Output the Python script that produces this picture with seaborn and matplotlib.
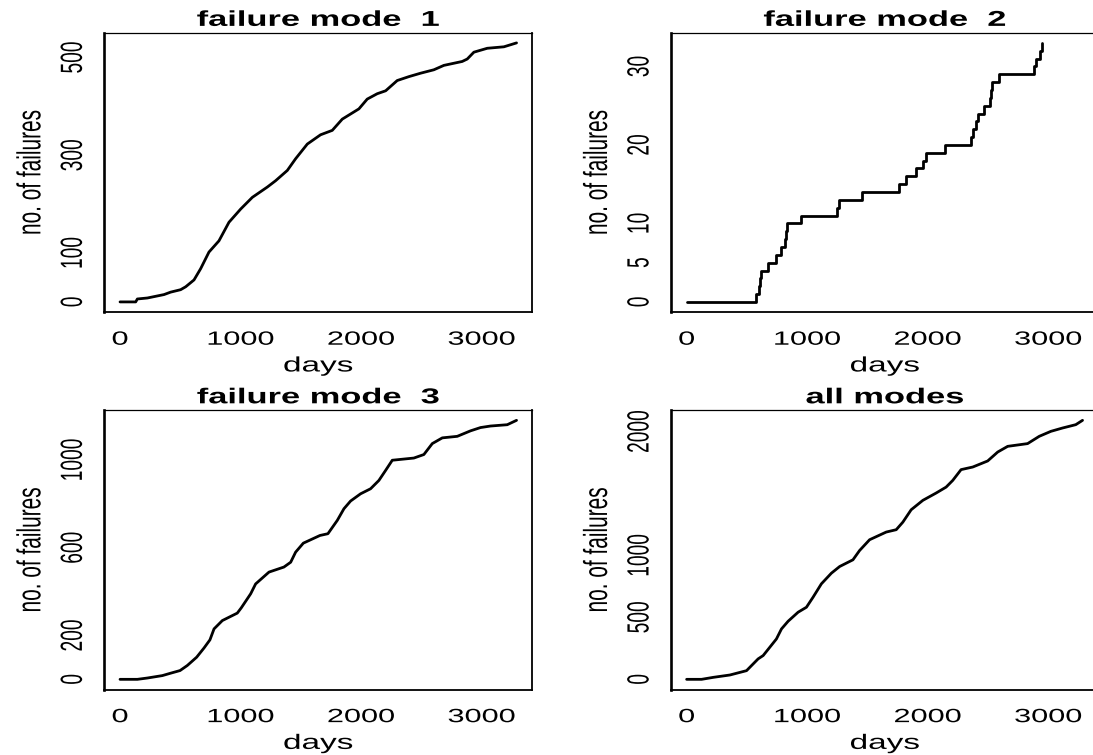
import matplotlib
matplotlib.use("Agg")
import matplotlib.pyplot as plt
import pandas as pd
import seaborn as sns
from matplotlib.patheffects import AbstractPathEffect
from matplotlib.transforms import Affine2D

# ---- cumulative failures by mode ----
mode1_days = [0, 130, 144, 227, 365, 420, 503, 545, 614, 669, 738, 821, 904, 1001,
              1098, 1222, 1291, 1388, 1457, 1554, 1664, 1761, 1844, 1982, 2051, 2134,
              2204, 2300, 2397, 2494, 2604, 2687, 2839, 2881, 2936, 3047, 3185, 3290]
mode1_count = [0, 0, 6, 8, 15, 20, 25, 31, 45, 68, 102, 125, 163, 190,
               214, 235, 248, 269, 293, 323, 342, 351, 374, 395, 415, 426,
               432, 453, 461, 468, 475, 484, 492, 497, 511, 519, 522, 530]

mode2_days = [0, 574, 602, 610, 621, 676, 745, 781, 820, 828, 834, 952, 1248, 1265,
              1455, 1761, 1816, 1905, 1965, 1982, 2147, 2360, 2380, 2400, 2415, 2470,
              2517, 2525, 2534, 2589, 2884, 2898, 2934, 2945]
mode2_count = list(range(0, 34))

mode3_days = [0, 144, 227, 351, 420, 498, 558, 636, 697, 746, 780, 849, 973, 1006,
              1084, 1125, 1236, 1360, 1416, 1457, 1521, 1659, 1725, 1803, 1858, 1913,
              1996, 2079, 2148, 2204, 2259, 2438, 2521, 2591, 2674, 2798, 2908, 2991,
              3074, 3213, 3290]
mode3_count = [0, 0, 6, 17, 28, 40, 63, 101, 143, 180, 230, 268, 302, 326,
               390, 435, 489, 512, 534, 580, 621, 656, 664, 725, 778, 813,
               846, 869, 907, 953, 999, 1009, 1025, 1075, 1101, 1108, 1133, 1148,
               1155, 1161, 1181]

all_days = [0, 124, 221, 359, 497, 593, 635, 690, 745, 787, 842, 925, 994, 1049,
            1118, 1201, 1270, 1380, 1435, 1518, 1656, 1739, 1794, 1863, 1960, 2070,
            2153, 2208, 2277, 2374, 2498, 2581, 2664, 2829, 2926, 3022, 3119, 3229, 3285]
all_count = [0, 0, 16, 35, 70, 165, 192, 259, 326, 407, 469, 542, 582, 663,
             771, 857, 911, 965, 1040, 1127, 1189, 1208, 1269, 1369, 1445, 1504,
             1552, 1606, 1693, 1714, 1763, 1835, 1881, 1903, 1962, 2002, 2029, 2056, 2091]

titles = ["failure mode  1", "failure mode  2", "failure mode  3", "all modes"]

y_ticks = [[0, 100, 200, 300, 400, 500],
           [0, 5, 10, 15, 20, 25, 30],
           [0, 200, 400, 600, 800, 1000, 1200],
           [0, 500, 1000, 1500, 2000]]
y_tick_labels = [["0", "100", "", "300", "", "500"],
                 ["0", "5", "10", "", "20", "", "30"],
                 ["0", "200", "", "600", "", "1000", ""],
                 ["0", "500", "1000", "", "2000"]]
x_ticks = [0, 500, 1000, 1500, 2000, 2500, 3000]
x_tick_labels = ["0", "", "1000", "", "2000", "", "3000"]


class WideText(AbstractPathEffect):
    """Widen glyphs horizontally around their own centre."""

    def __init__(self, factor):
        super().__init__()
        self.factor = factor

    def draw_path(self, renderer, gc, tpath, affine, rgbFace=None):
        ext = tpath.get_extents(affine)
        cx = 0.5 * (ext.x0 + ext.x1)
        widen = Affine2D().translate(-cx, 0).scale(self.factor, 1).translate(cx, 0)
        renderer.draw_path(gc, tpath, affine + widen, rgbFace)


sns.set_theme(style="white")
plt.rcParams["font.family"] = ["Liberation Sans", "DejaVu Sans"]
plt.rcParams["axes.edgecolor"] = "black"
plt.rcParams["text.color"] = "black"
plt.rcParams["xtick.color"] = "black"
plt.rcParams["ytick.color"] = "black"
plt.rcParams["axes.labelcolor"] = "black"

wide = [WideText(1.6)]

series = [
    (mode1_days, mode1_count, "default"),
    (mode2_days, mode2_count, "steps-post"),
    (mode3_days, mode3_count, "default"),
    (all_days, all_count, "default"),
]

fig = plt.figure(figsize=(10.93, 7.55), dpi=100)
lefts = [0.0953, 0.6137, 0.0953, 0.6137]
bottoms = [0.5864, 0.5864, 0.0865, 0.0865]
width, height = 0.3918, 0.3705

day_max = max(max(d) for d, _, _ in series)

for i, (days, counts, style) in enumerate(series):
    ax = fig.add_axes([lefts[i], bottoms[i], width, height])
    df = pd.DataFrame({"days": days, "failures": counts})
    sns.lineplot(data=df, x="days", y="failures", ax=ax, color="black",
                 linewidth=2.0, estimator=None, sort=False, drawstyle=style)

    cmax = max(counts)
    ax.set_xlim(-0.04 * day_max, 1.04 * day_max)
    ax.set_ylim(-0.04 * cmax, 1.04 * cmax)

    ax.set_xticks(x_ticks)
    ax.set_xticklabels(x_tick_labels, fontsize=13.8)
    ax.set_yticks(y_ticks[i])
    ax.set_yticklabels(y_tick_labels[i], fontsize=13.8, rotation=90, va="center")

    ax.tick_params(axis="x", direction="out", length=9, width=1.6, pad=5)
    ax.tick_params(axis="y", direction="out", length=15, width=1.0, pad=1)

    ax.spines["left"].set_linewidth(1.9)
    ax.spines["bottom"].set_linewidth(1.3)
    ax.spines["right"].set_linewidth(1.3)
    ax.spines["top"].set_linewidth(0.9)

    ax.set_title(titles[i], fontsize=15.5, fontweight="bold", pad=4.8)
    ax.set_xlabel("days", fontsize=15)
    ax.set_ylabel("no. of failures", fontsize=15)
    ax.xaxis.set_label_coords(0.5, -0.158)
    ax.yaxis.set_label_coords(-0.15, 0.5)

    for txt in [ax.title, ax.xaxis.label, ax.yaxis.label]:
        txt.set_path_effects(wide)
    for lab in ax.get_xticklabels() + ax.get_yticklabels():
        lab.set_path_effects(wide)

fig.savefig("out.png", dpi=100)
